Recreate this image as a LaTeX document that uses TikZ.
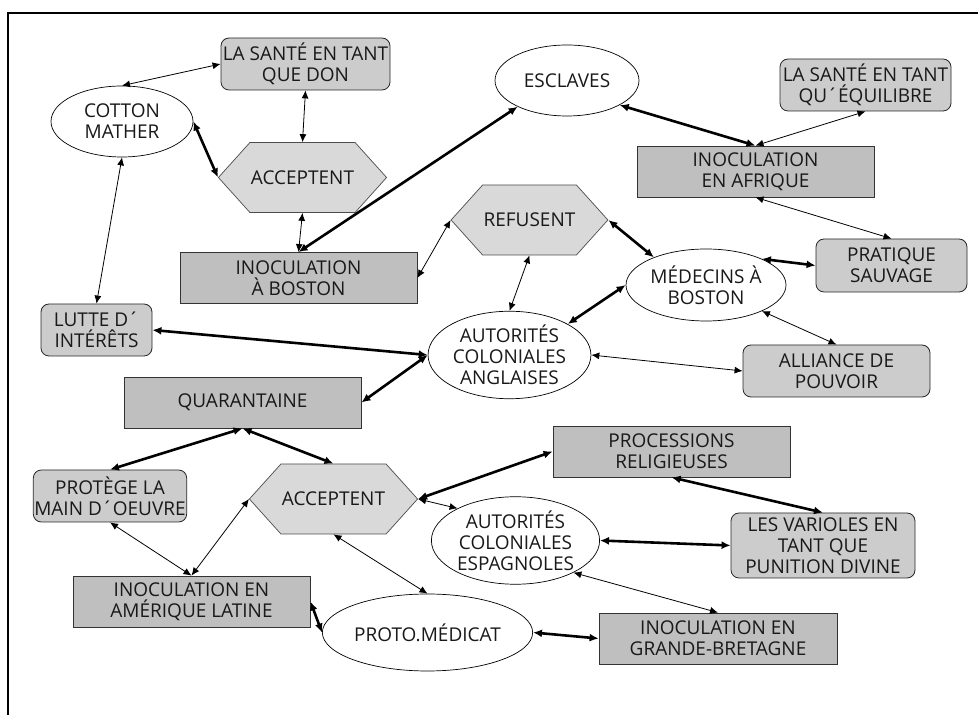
\documentclass[tikz,border=0pt]{standalone}
\usepackage{fontspec}
\setmainfont{Open Sans}
\usetikzlibrary{arrows.meta,positioning,shapes.geometric,shapes.symbols}

\tikzset{
  texte/.style={align=center, inner sep=1pt, text=black!90, font=\fontsize{19}{21}\selectfont},
  boite/.style={texte, rectangle, draw=black!80, fill=black!25, line width=0.8pt, minimum width=237pt, minimum height=51pt},
  arrondi/.style={texte, rectangle, rounded corners=8pt, draw=black!85, fill=black!20, line width=0.8pt, minimum height=52pt},
  acteur/.style={texte, ellipse, draw, line width=0.7pt},
  choix/.style={texte, signal, signal to=east and west, signal pointer angle=96, draw=black!70, fill=black!15, line width=0.7pt, minimum width=131pt, minimum height=70pt},
  lien/.style={<->, >={Latex[length=8pt,width=7pt]}, line width=0.8pt},
  lienfort/.style={<->, >={Latex[length=9pt,width=8pt]}, line width=2.6pt}
}

\begin{document}
\begin{tikzpicture}[x=1pt, y=1pt, node distance=10pt, on grid]
    \useasboundingbox (0,0) rectangle (978,715);
    \draw[line width=1.1pt] (8,0) -- (8,702) -- (978,702);

    % haut
    \node(cotton) [acteur, minimum width=142pt, minimum height=71pt] at (122,593.5) {COTTON\\MATHER};
    \node(santedon) [arrondi, minimum width=169pt, above right=57.5pt and 183.5pt of cotton] {LA SANTÉ EN TANT\\QUE DON};
    \node(accepthaut) [choix, below left=113.5pt and 3pt of santedon] {ACCEPTENT};
    \node(boston) [boite, below left=100.5pt and 4pt of accepthaut] {INOCULATION\\À BOSTON};
    \node(esclaves) [acteur, minimum width=144pt, minimum height=71pt, below right=16.5pt and 261.5pt of santedon] {ESCLAVES};
    \node(santeequil) [arrondi, minimum width=171pt, below right=4.5pt and 298.5pt of esclaves] {LA SANTÉ EN TANT\\QU´ÉQUILIBRE};
    \node(afrique) [boite, below left=86.5pt and 110pt of santeequil] {INOCULATION\\EN AFRIQUE};

    % milieu
    \node(refusent) [choix, above right=58pt and 231pt of boston] {REFUSENT};
    \node(medecins) [acteur, minimum width=144pt, minimum height=72pt, below right=65pt and 176.5pt of refusent] {MÉDECINS À\\BOSTON};
    \node(pratique) [arrondi, minimum width=151pt, minimum height=53pt, above right=19.5pt and 185.5pt of medecins] {PRATIQUE\\SAUVAGE};
    \node(alliance) [arrondi, minimum width=187pt, below left=105.5pt and 55pt of pratique] {ALLIANCE DE\\POUVOIR};
    \node(anglaises) [acteur, minimum width=149pt, minimum height=84pt, below left=135pt and 20pt of refusent] {AUTORITÉS\\COLONIALES\\ANGLAISES};
    \node(lutte) [arrondi, minimum width=111pt, above left=25pt and 413pt of anglaises] {LUTTE D´\\INTÉRÊTS};
    \node(quarantaine) [boite, below left=47.5pt and 267pt of anglaises] {QUARANTAINE};

    % bas
    \node(acceptbas) [choix, below right=96.5pt and 91pt of quarantaine] {ACCEPTENT};
    \node(protege) [arrondi, minimum width=150pt, below left=93.5pt and 132.5pt of quarantaine] {PROTÈGE LA\\MAIN D´OEUVRE};
    \node(amerique) [boite, below right=105.5pt and 81.5pt of protege] {INOCULATION EN\\AMÉRIQUE LATINE};
    \node(proto) [acteur, minimum width=169pt, minimum height=77pt, below right=133.5pt and 94pt of acceptbas] {PROTO.MÉDICAT};
    \node(espagnoles) [acteur, minimum width=157pt, minimum height=87pt, below right=41.5pt and 182pt of acceptbas] {AUTORITÉS\\COLONIALES\\ESPAGNOLES};
    \node(processions) [boite, above right=89pt and 156pt of espagnoles] {PROCESSIONS\\RELIGIEUSES};
    \node(varioles) [arrondi, minimum width=184pt, minimum height=65pt, below right=5pt and 307.5pt of espagnoles] {LES VARIOLES EN\\TANT QUE\\PUNITION DIVINE};
    \node(bretagne) [boite, minimum width=238pt, below right=6pt and 290.5pt of proto] {INOCULATION EN\\GRANDE-BRETAGNE};

    % liens
    \draw[lien] (cotton.north) -- (santedon.west);
    \draw[lien] (santedon.south) -- (accepthaut.north);
    \draw[lienfort] (cotton.east) -- (accepthaut.west);
    \draw[lien] (accepthaut.south) -- (boston.north);
    \draw[lienfort] (boston.north) -- (esclaves.208);
    \draw[lienfort] (esclaves.335) -- (afrique.north);
    \draw[lien] (santeequil.south) -- (afrique.north);
    \draw[lien] (afrique.south) -- (pratique.north);
    \draw[lien] (refusent.west) -- (boston.east);
    \draw[lienfort] (refusent.east) -- (medecins.152);
    \draw[lien] (refusent.south) -- (anglaises.north);
    \draw[lienfort] (medecins.west) -- (anglaises.28);
    \draw[lienfort] (medecins.25) -- (pratique.west);
    \draw[lien] (medecins.-25) -- (alliance.north);
    \draw[lien] (anglaises.east) -- (alliance.west);
    \draw[lienfort] (lutte.east) -- (anglaises.west);
    \draw[lien] (cotton.south) -- (lutte.north);
    \draw[lienfort] (quarantaine.east) -- (anglaises.west);
    \draw[lienfort] (quarantaine.south) -- (protege.north);
    \draw[lienfort] (quarantaine.south) -- (acceptbas.north);
    \draw[lienfort] (acceptbas.east) -- (processions.west);
    \draw[lien] (acceptbas.east) -- (espagnoles.151);
    \draw[lien] (acceptbas.west) -- (amerique.north);
    \draw[lien] (protege.south) -- (amerique.north);
    \draw[lien] (acceptbas.south) -- (proto.north);
    \draw[lienfort] (amerique.east) -- (proto.west);
    \draw[lienfort] (proto.east) -- (bretagne.west);
    \draw[lien] (espagnoles.-29) -- (bretagne.north);
    \draw[lienfort] (espagnoles.east) -- (varioles.west);
    \draw[lienfort] (processions.south) -- (varioles.north);
\end{tikzpicture}
\end{document}
